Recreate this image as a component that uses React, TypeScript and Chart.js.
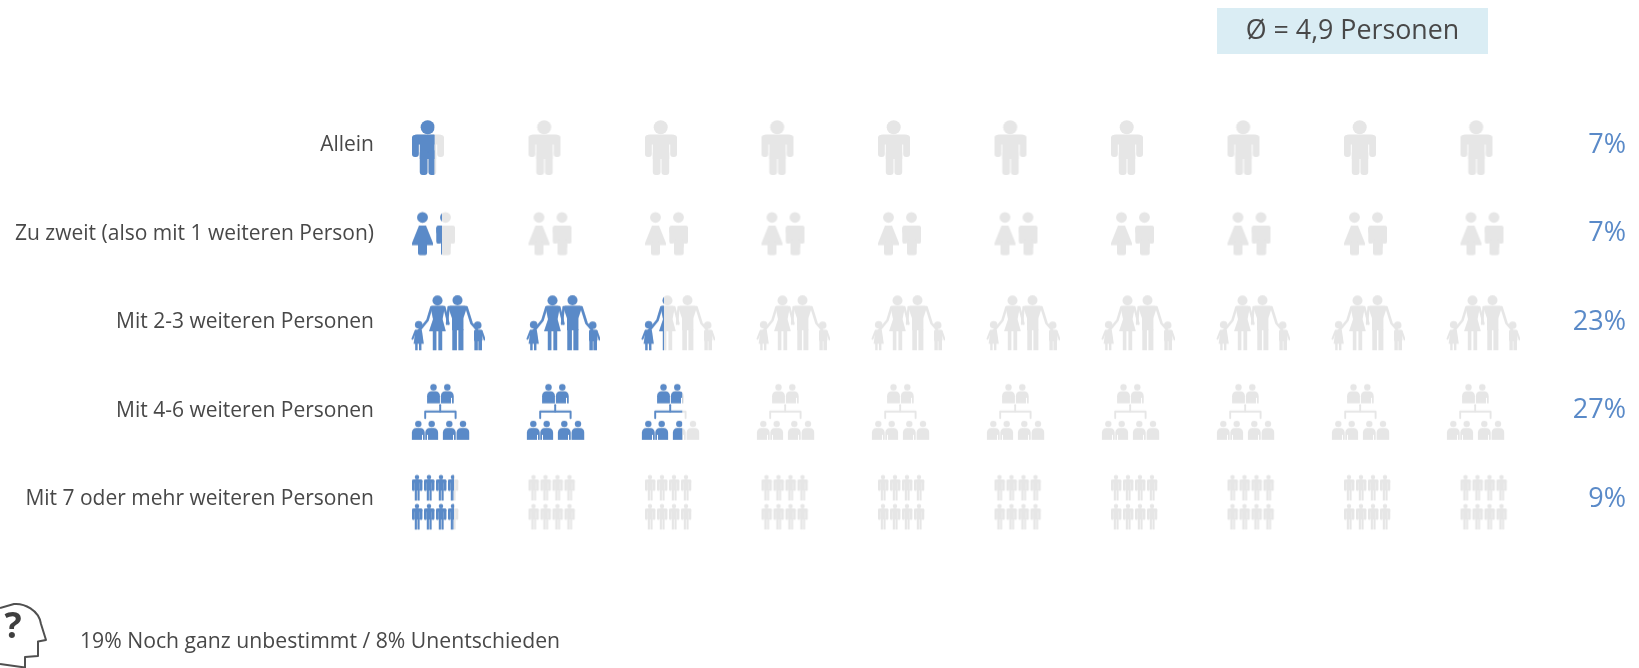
import React, { useEffect, useRef } from "react";
import { Chart, registerables } from "chart.js";

Chart.register(...registerables);

const categories = [
  "Allein",
  "Zu zweit (also mit 1 weiteren Person)",
  "Mit 2-3 weiteren Personen",
  "Mit 4-6 weiteren Personen",
  "Mit 7 oder mehr weiteren Personen",
];
const shares = [7, 7, 23, 27, 9];
const averageLabel = "Ø = 4,9 Personen";
const footnote = "19% Noch ganz unbestimmt / 8% Unentschieden";
const iconCount = 10;
const percentPerIcon = 10;

const BLUE = "#5a8ac8";
const GREY = "#e6e6e6";
const TEXT = "#484848";
const FONT = '"Open Sans"';

const W = 1639;
const H = 668;
const AREA_LEFT = 400;
const AREA_RIGHT = 1546;
const RIGHT_MARGIN = 13;
const SPRITE_W = 96;
const SPRITE_H = 76;
const PAD = 6;

type Painter = (c: CanvasRenderingContext2D) => void;

function rr(c: CanvasRenderingContext2D, x: number, y: number, w: number, h: number, r: number) {
  c.beginPath();
  c.roundRect(x, y, w, h, r);
  c.fill();
}
function dot(c: CanvasRenderingContext2D, x: number, y: number, r: number) {
  c.beginPath();
  c.arc(x, y, r, 0, Math.PI * 2);
  c.fill();
}
function poly(c: CanvasRenderingContext2D, pts: number[][]) {
  c.beginPath();
  pts.forEach((p, i) => (i ? c.lineTo(p[0], p[1]) : c.moveTo(p[0], p[1])));
  c.closePath();
  c.fill();
}
function stroke(c: CanvasRenderingContext2D, pts: number[][], w: number) {
  c.lineWidth = w;
  c.lineCap = "round";
  c.lineJoin = "round";
  c.beginPath();
  pts.forEach((p, i) => (i ? c.lineTo(p[0], p[1]) : c.moveTo(p[0], p[1])));
  c.stroke();
}

function bigMan(c: CanvasRenderingContext2D) {
  dot(c, 15.7, 7.2, 7);
  rr(c, 0, 14.5, 32, 10, 5);
  rr(c, 0, 15, 6.8, 22, 3);
  rr(c, 25.2, 15, 6.8, 22, 3);
  c.fillRect(7.8, 15, 16.4, 24);
  rr(c, 7.8, 30, 7.7, 25, 3);
  rr(c, 16.5, 30, 7.7, 25, 3);
}

function tinyMan(c: CanvasRenderingContext2D, left: number, top: number) {
  dot(c, left + 5, top + 2.1, 2.2);
  rr(c, left, top + 4.4, 10.4, 3.6, 1.6);
  rr(c, left, top + 4.8, 2.7, 11, 1.1);
  rr(c, left + 7.7, top + 4.8, 2.7, 11, 1.1);
  c.fillRect(left + 2.7, top + 5, 5, 10.5);
  c.fillRect(left + 2.8, top + 14, 2.1, 11.5);
  c.fillRect(left + 5.5, top + 14, 2.1, 11.5);
}

function bust(c: CanvasRenderingContext2D, cx: number, top: number) {
  dot(c, cx, top + 3.3, 3.2);
  c.beginPath();
  c.moveTo(cx - 6.4, top + 19.2);
  c.lineTo(cx - 6.4, top + 12);
  c.quadraticCurveTo(cx - 6, top + 7.4, cx - 2, top + 7.4);
  c.lineTo(cx + 2, top + 7.4);
  c.quadraticCurveTo(cx + 6, top + 7.4, cx + 6.4, top + 12);
  c.lineTo(cx + 6.4, top + 19.2);
  c.closePath();
  c.fill();
  c.clearRect(cx - 4.4, top + 14, 0.3, 5.5);
  c.clearRect(cx + 4.1, top + 14, 0.3, 5.5);
}

const iconPainters: Painter[] = [
  bigMan,
  (c) => {
    dot(c, 10.5, 5.4, 5.4);
    c.beginPath();
    c.moveTo(7, 13.5);
    c.lineTo(14, 13.5);
    c.lineTo(21, 31);
    c.lineTo(21, 33);
    c.lineTo(0, 33);
    c.lineTo(0, 31);
    c.closePath();
    c.fill();
    rr(c, 6, 30, 9, 13, 2);
    dot(c, 33.5, 5.4, 5.4);
    rr(c, 24.3, 13.7, 18.7, 9, 3.5);
    rr(c, 24.3, 13.7, 5, 18, 2.2);
    rr(c, 38, 13.7, 5, 18, 2.2);
    c.fillRect(29, 15, 9.7, 20);
    rr(c, 29, 28, 9.7, 15, 2);
  },
  (c) => {
    dot(c, 25.5, 4.2, 5);
    dot(c, 45.5, 4, 5);
    // woman
    poly(c, [[20, 9.4], [31.5, 9.4], [32.8, 11], [30.6, 23], [33.8, 35], [17, 35], [21, 23], [18.6, 11]]);
    c.fillRect(20.8, 34, 3.6, 20);
    c.fillRect(26.4, 34, 3.8, 20);
    // man
    poly(c, [[37.5, 9.4], [53.5, 9.4], [54.8, 11.5], [51.4, 22], [51.4, 34], [40, 34], [40, 22], [36.4, 11.5]]);
    c.fillRect(40.3, 33, 4.6, 21);
    c.fillRect(46.4, 33, 5, 21);
    // arms
    stroke(c, [[19.4, 11], [15.5, 24], [9, 32], [6.5, 34.5]], 2.6);
    stroke(c, [[32.4, 11], [36.5, 27.5]], 2.4);
    stroke(c, [[36.6, 11], [35, 27.5]], 2.4);
    stroke(c, [[54.5, 11], [59.5, 27], [65, 33.5]], 2.6);
    // left child
    dot(c, 6.7, 28.5, 3.8);
    poly(c, [[3.6, 33.4], [9.8, 33.4], [11.8, 47.5], [1.6, 47.5]]);
    c.fillRect(3.2, 46.5, 2.4, 7.5);
    c.fillRect(7, 46.5, 2.4, 7.5);
    stroke(c, [[3.6, 34.6], [0.5, 42.5]], 2);
    // right child
    dot(c, 65.7, 29, 3.8);
    rr(c, 62, 33.4, 8.4, 11.5, 1.5);
    c.fillRect(62.4, 44, 3.4, 10);
    c.fillRect(66.4, 44, 3.6, 10);
    stroke(c, [[69.6, 34.8], [72.6, 43.3]], 2);
  },
  (c) => {
    bust(c, 21.5, 0);
    bust(c, 35.3, 0);
    [6.3, 19.7, 37.3, 51].forEach((x) => bust(c, x, 36.6));
    stroke(c, [[28.2, 21], [28.2, 27.6]], 1.9);
    stroke(c, [[13.2, 34], [13.2, 27.6], [43.6, 27.6], [43.6, 34]], 1.9);
  },
  (c) => {
    [0, 29].forEach((top) => [0, 12, 24, 36].forEach((left) => tinyMan(c, left, top)));
  },
];
const iconWidths = [32, 43, 73, 57.5, 46.7];
// distance from the row's centre line to the icon's top
const iconRise = [25, 21.6, 26, 26.8, 24.4];
// narrower pitch for the two rows with wide pictograms
const usesNarrowPitch = [false, false, true, true, false];
const PITCH_WIDE = 116.5;
const PITCH_NARROW = 115;
const FIRST_LEFT = 412;

function makeSprite(row: number, color: string, fraction: number): HTMLCanvasElement {
  const raw = document.createElement("canvas");
  raw.width = SPRITE_W;
  raw.height = SPRITE_H;
  const r = raw.getContext("2d")!;
  const top = SPRITE_H / 2 - iconRise[row];
  r.fillStyle = color;
  r.strokeStyle = color;
  r.save();
  r.beginPath();
  r.rect(0, 0, PAD + iconWidths[row] * fraction, SPRITE_H);
  r.clip();
  r.translate(PAD, top);
  iconPainters[row](r);
  r.restore();
  const out = document.createElement("canvas");
  out.width = SPRITE_W;
  out.height = SPRITE_H;
  const o = out.getContext("2d")!;
  o.filter = "blur(0.55px)";
  o.drawImage(raw, 0, 0);
  return out;
}

function xBounds(pitch: number) {
  const c0 = FIRST_LEFT - PAD + SPRITE_W / 2;
  return {
    type: "linear" as const,
    axis: "x" as const,
    display: false,
    min: (AREA_LEFT - c0) / pitch,
    max: (AREA_RIGHT - c0) / pitch,
  };
}

const decorations = {
  id: "decorations",
  beforeDraw(chart: Chart) {
    const c = chart.ctx;
    c.save();
    c.fillStyle = "#daedf4";
    c.fillRect(1217, 8, 271, 46);
    c.fillStyle = TEXT;
    c.font = `26.8px ${FONT}`;
    c.textAlign = "center";
    c.textBaseline = "middle";
    c.fillText(averageLabel, 1352.5, 31.5);
    c.textAlign = "left";
    c.font = `21.2px ${FONT}`;
    c.fillText(footnote, 80, 642);
    // head outline
    c.strokeStyle = "#505050";
    c.lineWidth = 2;
    c.lineJoin = "round";
    c.beginPath();
    c.moveTo(0, 664);
    c.lineTo(25, 667.5);
    c.lineTo(25, 657);
    c.lineTo(38, 656);
    c.lineTo(38, 641.5);
    c.lineTo(46, 640);
    c.lineTo(41, 624);
    c.bezierCurveTo(39, 610, 24, 603, 14, 604);
    c.lineTo(0, 608);
    c.stroke();
    c.fillStyle = "#3f3f3f";
    c.font = `bold 36px ${FONT}`;
    c.textAlign = "center";
    c.fillText("?", 13, 628);
    c.restore();
  },
};

export default function App() {
  const ref = useRef<HTMLCanvasElement | null>(null);

  useEffect(() => {
    document.body.style.margin = "0";
    const datasets = categories.flatMap((category, row) => {
      const xAxisID = usesNarrowPitch[row] ? "xNarrow" : "xWide";
      const greySprite = makeSprite(row, GREY, 1);
      const filled = shares[row] / percentPerIcon;
      const slots = Array.from({ length: iconCount }, (_, col) => col);
      const blueSlots = slots.filter((col) => col < filled);
      return [
        {
          label: `${category} (Basis)`,
          xAxisID,
          yAxisID: "y",
          data: slots.map((col) => ({ x: col, y: category })),
          pointStyle: greySprite,
          pointRadius: 10,
          order: 2,
        },
        {
          label: category,
          xAxisID,
          yAxisID: "y",
          data: blueSlots.map((col) => ({ x: col, y: category })),
          pointStyle: blueSlots.map((col) =>
            makeSprite(row, BLUE, Math.min(1, filled - col))
          ),
          pointRadius: 10,
          order: 1,
        },
      ];
    });

    const chart = new Chart(ref.current!, {
      type: "scatter",
      data: { datasets: datasets as any },
      plugins: [decorations],
      options: {
        responsive: false,
        animation: false,
        events: [],
        layout: { padding: { top: 100.7, bottom: 124.3, left: 0, right: RIGHT_MARGIN } },
        plugins: { legend: { display: false }, tooltip: { enabled: false }, title: { display: false } },
        scales: {
          xWide: xBounds(PITCH_WIDE),
          xNarrow: xBounds(PITCH_NARROW),
          y: {
            type: "category",
            position: "left",
            offset: true,
            labels: categories,
            grid: { display: false, offset: false },
            border: { display: false },
            afterFit: (s: any) => {
              s.width = AREA_LEFT;
            },
            ticks: {
              color: TEXT,
              font: { family: "Open Sans", size: 21 },
              padding: 18,
              autoSkip: false,
              maxRotation: 0,
            },
          },
          yShare: {
            type: "category",
            position: "right",
            offset: true,
            labels: shares.map((v) => `${v}%`),
            grid: { display: false, offset: false },
            border: { display: false },
            afterFit: (s: any) => {
              s.width = W - RIGHT_MARGIN - AREA_RIGHT;
            },
            ticks: {
              color: BLUE,
              font: { family: "Open Sans", size: 27 },
              padding: 1,
              crossAlign: "far",
              autoSkip: false,
              maxRotation: 0,
            },
          },
        },
      } as any,
    });
    return () => chart.destroy();
  }, []);

  return (
    <canvas
      ref={ref}
      width={W}
      height={H}
      style={{ position: "absolute", left: 0, top: 0, width: W, height: H, display: "block" }}
    />
  );
}
